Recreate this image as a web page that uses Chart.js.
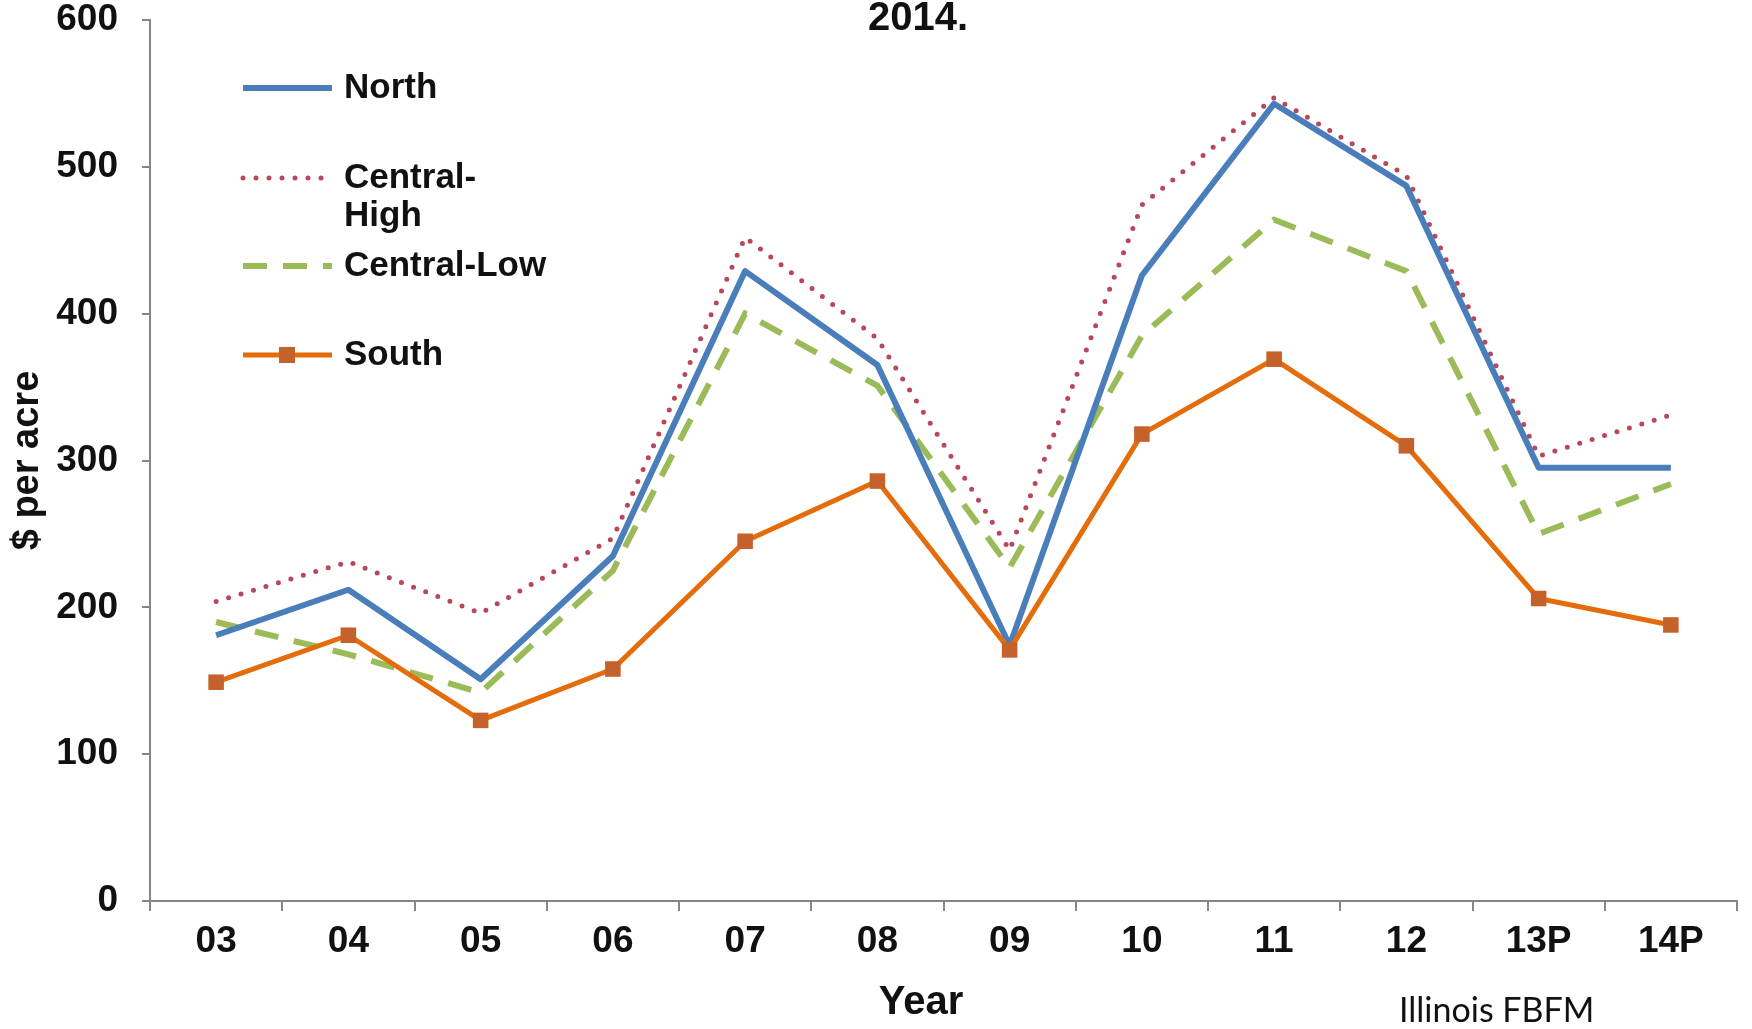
<!DOCTYPE html>
<html>
<head>
<meta charset="utf-8">
<script src="https://cdn.jsdelivr.net/npm/chart.js@4.4.1/dist/chart.umd.min.js"></script>
<style>
  html, body { margin: 0; padding: 0; background: #fff; }
  #wrap { width: 1752px; height: 1029px; }
</style>
</head>
<body>
<div id="wrap"><canvas id="grafico" width="1752" height="1029"></canvas></div>
<script>
// Dados
const anos = ["03", "04", "05", "06", "07", "08", "09", "10", "11", "12", "13P", "14P"];
const north = [181, 212, 151, 235, 429, 365, 174, 426, 543, 487, 295, 295];
const centralHigh = [204, 231, 196, 247, 452, 383, 239, 474, 547, 494, 303, 331];
const centralLow = [190, 168, 142, 225, 400, 351, 227, 385, 464, 429, 250, 284];
const south = [149, 181, 123, 158, 245, 286, 171, 318, 369, 310, 206, 188];
const yTicks = [0, 100, 200, 300, 400, 500, 600];

const FONTE = "'Liberation Sans', Arial, sans-serif";
const CINZA = "#868686";

// Legenda desenhada à mão (layout irregular do original)
const legendaItens = [
  { ds: 0, y: 88, linhas: ["North"] },
  { ds: 1, y: 178, linhas: ["Central-", "High"] },
  { ds: 2, y: 266, linhas: ["Central-Low"] },
  { ds: 3, y: 355, linhas: ["South"] }
];

const extras = {
  id: "extras",
  afterDraw(chart) {
    const c = chart.ctx;
    c.save();
    // legenda
    legendaItens.forEach(it => {
      const ds = chart.data.datasets[it.ds];
      c.beginPath();
      c.strokeStyle = ds.borderColor;
      c.lineWidth = ds.borderWidth;
      c.lineCap = ds.borderCapStyle || "butt";
      c.setLineDash(ds.borderDash || []);
      c.moveTo(243, it.y);
      c.lineTo(332, it.y);
      c.stroke();
      c.setLineDash([]);
      if (ds.pointRadius > 0) {
        c.fillStyle = ds.pointBackgroundColor;
        c.fillRect(287 - 8, it.y - 8, 16, 16);
      }
      c.fillStyle = "#111";
      c.font = "bold 35px " + FONTE;
      c.textBaseline = "middle";
      c.textAlign = "left";
      it.linhas.forEach((t, i) => c.fillText(t, 344, it.y + i * 38));
    });
    // titulo (cortado no original)
    c.fillStyle = "#111";
    c.font = "bold 40px " + FONTE;
    c.textAlign = "center";
    c.textBaseline = "alphabetic";
    c.fillText("2014.", 918, 30);
    // titulo do eixo x
    c.textBaseline = "middle";
    c.fillText("Year", 921, 1003);
    // fonte
    c.font = "34px Lato, 'Open Sans', sans-serif";
    c.textAlign = "left";
    c.textBaseline = "alphabetic";
    c.fillText("Illinois FBFM", 1399, 1022);
    c.restore();
  }
};

const ctx = document.getElementById("grafico").getContext("2d");
new Chart(ctx, {
  type: "line",
  data: {
    labels: anos,
    datasets: [
      {
        label: "North",
        data: north,
        borderColor: "#4A7EBB",
        borderWidth: 6,
        pointRadius: 0,
        borderJoinStyle: "round",
        order: 1
      },
      {
        label: "Central-High",
        data: centralHigh,
        borderColor: "#B8475A",
        borderWidth: 5,
        borderDash: [0, 13],
        borderCapStyle: "round",
        pointRadius: 0,
        order: 2
      },
      {
        label: "Central-Low",
        data: centralLow,
        borderColor: "#9BBB59",
        borderWidth: 6,
        borderDash: [24, 16],
        pointRadius: 0,
        order: 3
      },
      {
        label: "South",
        data: south,
        borderColor: "#E46C0A",
        borderWidth: 5,
        borderJoinStyle: "round",
        pointStyle: "rect",
        pointRadius: 11,
        pointBackgroundColor: "#C5622C",
        pointBorderWidth: 0,
        order: 0
      }
    ]
  },
  plugins: [extras],
  options: {
    responsive: false,
    animation: false,
    events: [],
    layout: { padding: { top: 20, right: 15, left: 0, bottom: 0 } },
    plugins: {
      legend: { display: false },
      tooltip: { enabled: false }
    },
    scales: {
      x: {
        offset: true,
        afterFit: s => { s.height = 128; },
        grid: { offset: true, drawOnChartArea: false, tickLength: 10, color: CINZA, lineWidth: 2 },
        border: { color: CINZA, width: 2 },
        ticks: { color: "#111", padding: 12, font: { family: FONTE, size: 37, weight: "bold", lineHeight: 1 } }
      },
      y: {
        min: 0,
        max: 600,
        afterFit: s => { s.width = 150; s.paddingTop = 0; s.paddingBottom = 0; },
        afterBuildTicks: s => { s.ticks = yTicks.map(v => ({ value: v })); },
        grid: { drawOnChartArea: false, tickLength: 8, color: CINZA, lineWidth: 2 },
        border: { color: CINZA, width: 2 },
        ticks: { color: "#111", padding: 24, font: { family: FONTE, size: 37, weight: "bold", lineHeight: 1 } },
        title: {
          display: true, text: "$ per acre", color: "#111",
          padding: { top: 5, bottom: 0 },
          font: { family: FONTE, size: 38, weight: "bold" }
        }
      }
    }
  }
});
</script>
</body>
</html>
